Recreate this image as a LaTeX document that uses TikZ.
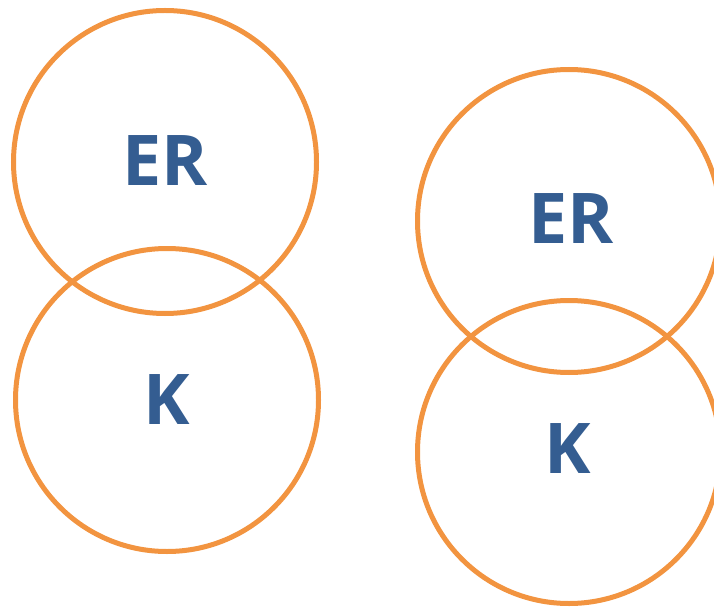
\documentclass[tikz,border=0pt]{standalone}
\usepackage{fontspec}
\setmainfont{Open Sans}
\definecolor{ringorange}{RGB}{242,148,64}
\definecolor{textblue}{RGB}{52,93,145}
\tikzset{
  ring/.style={circle, draw=ringorange, line width=5pt, minimum size=303pt, inner sep=0pt},
  lbl/.style={text=textblue, font=\fontsize{70}{70}\selectfont\bfseries, inner sep=0pt}
}
\begin{document}
\begin{tikzpicture}[x=1pt,y=1pt]
\useasboundingbox (0,0) rectangle (714,606);
\node[ring] (c1) at (165,444) {};
\node[ring] (c2) at (167,206) {};
\node[ring] (c3) at (569,385) {};
\node[ring] (c4) at (569,154) {};
\node[lbl] (t1) at (165,445.5) {ER};
\node[lbl] (t2) at (167,206) {K};
\node[lbl] (t3) at (571,387) {ER};
\node[lbl] (t4) at (568,157) {K};
\end{tikzpicture}
\end{document}
